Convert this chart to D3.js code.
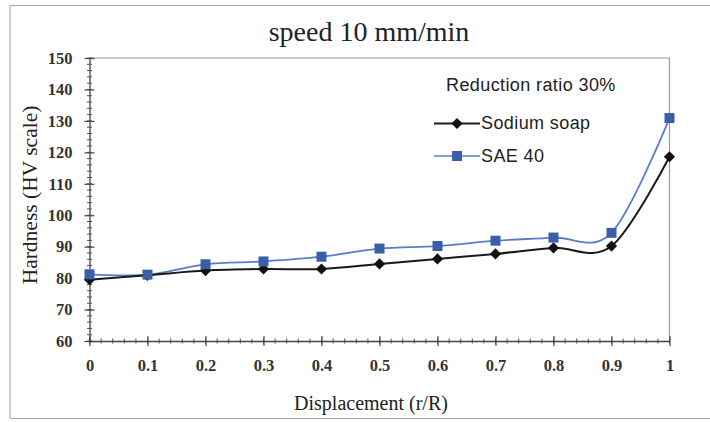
<!DOCTYPE html>
<html><head><meta charset="utf-8">
<script src="https://cdn.jsdelivr.net/npm/d3@7"></script>
<style>body{margin:0;background:#fff}svg{display:block}</style>
</head><body>
<script>
const displacement = [0, 0.1, 0.2, 0.3, 0.4, 0.5, 0.6, 0.7, 0.8, 0.9, 1];
const sodiumSoap = [79.5, 80.9, 82.4, 82.9, 82.9, 84.5, 86.1, 87.7, 89.6, 90.2, 118.6];
const sae40 = [81.2, 81.1, 84.4, 85.3, 86.8, 89.4, 90.2, 91.9, 92.9, 94.4, 130.9];
const xTicks = [0, 0.1, 0.2, 0.3, 0.4, 0.5, 0.6, 0.7, 0.8, 0.9, 1];
const yTicks = [60, 70, 80, 90, 100, 110, 120, 130, 140, 150];
const seriesNames = ["Sodium soap", "SAE 40"];

const W = 710, H = 422;
const svg = d3.select("body").append("svg").attr("width", W).attr("height", H);

// outer frame
svg.append("path").attr("d", "M10,418 L10,5.5 L710,5.5 M10,418.5 L710,418.5")
  .attr("fill", "none").attr("stroke", "#aaa").attr("stroke-width", 1.2);

const L = 89.5, R = 669.5, T = 58, B = 341;
const x = d3.scaleLinear().domain([0, 1]).range([L, R]);
const y = d3.scaleLinear().domain([60, 150]).range([B, T]);

// plot border top/right
svg.append("path").attr("d", `M${L},${T} L${R},${T} L${R},${B}`)
  .attr("fill", "none").attr("stroke", "#9a9a9a").attr("stroke-width", 1.2);

// minor ticks
const xMinor = d3.range(0, 1.0001, 0.02);
svg.append("g").selectAll("line").data(xMinor).join("line")
  .attr("x1", d => x(d)).attr("x2", d => x(d)).attr("y1", B - 2.5).attr("y2", B + 2.5)
  .attr("stroke", "#555").attr("stroke-width", 1);
const yMinor = d3.range(60, 150.001, 2);
svg.append("g").selectAll("line").data(yMinor).join("line")
  .attr("x1", L - 2.5).attr("x2", L + 2.5).attr("y1", d => y(d)).attr("y2", d => y(d))
  .attr("stroke", "#555").attr("stroke-width", 1);

// axes
const xAxis = svg.append("g").attr("transform", `translate(0,${B})`)
  .call(d3.axisBottom(x).tickValues(xTicks).tickFormat(d => d3.format("")(d)).tickSize(5).tickSizeOuter(0));
xAxis.selectAll(".tick line").attr("y1", -5).attr("y2", 5);
const yAxis = svg.append("g").attr("transform", `translate(${L},0)`)
  .call(d3.axisLeft(y).tickValues(yTicks).tickSize(5).tickSizeOuter(0));
yAxis.selectAll(".tick line").attr("x1", -5).attr("x2", 5);
[xAxis, yAxis].forEach(a => {
  a.select(".domain").attr("stroke", "#444").attr("stroke-width", 1.3);
  a.selectAll(".tick line").attr("stroke", "#444").attr("stroke-width", 1.2);
  a.selectAll("text").attr("font-family", "Liberation Serif, serif").attr("font-size", 16.5)
    .attr("font-weight", "bold").attr("fill", "#333");
});
xAxis.selectAll("text").attr("dy", "1.35em");
yAxis.selectAll("text").attr("dx", "-0.55em");

// lines
const curve = d3.curveCardinal.tension(0);
function draw(vals, stroke, width) {
  const line = d3.line().x((d, i) => x(displacement[i])).y(d => y(d)).curve(curve);
  svg.append("path").datum(vals).attr("d", line).attr("fill", "none")
    .attr("stroke", stroke).attr("stroke-width", width);
}
draw(sae40, "#5a7ec6", 1.8);
draw(sodiumSoap, "#1a1a1a", 2);

const diamond = d3.symbol().type(d3.symbolDiamond2).size(80);
svg.append("g").selectAll("path").data(sodiumSoap).join("path")
  .attr("transform", (d, i) => `translate(${x(displacement[i])},${y(d)})`)
  .attr("d", diamond).attr("fill", "#111");
svg.append("g").selectAll("rect").data(sae40).join("rect")
  .attr("x", (d, i) => x(displacement[i]) - 5).attr("y", d => y(d) - 5)
  .attr("width", 10).attr("height", 10).attr("fill", "#3b5ea8");

// title & labels
svg.append("text").attr("x", 369).attr("y", 41).attr("text-anchor", "middle")
  .attr("font-family", "Liberation Serif, serif").attr("font-size", 28).attr("fill", "#222")
  .text("speed 10 mm/min");
svg.append("text").attr("x", 371).attr("y", 410).attr("text-anchor", "middle")
  .attr("font-family", "Liberation Serif, serif").attr("font-size", 20).attr("fill", "#222")
  .text("Displacement (r/R)");
svg.append("text").attr("transform", "translate(37,195) rotate(-90)").attr("text-anchor", "middle")
  .attr("font-family", "Liberation Serif, serif").attr("font-size", 21.5).attr("fill", "#222")
  .text("Hardness (HV scale)");

// legend
const lg = svg.append("g").attr("font-family", "Liberation Sans, Arial, sans-serif")
  .attr("font-size", 18).attr("letter-spacing", "0.4px").attr("fill", "#222");
lg.append("text").attr("x", 446).attr("y", 91).text("Reduction ratio 30%");
const legItems = [
  {name: seriesNames[0], color: "#1a1a1a", y: 123.5, shape: "diamond"},
  {name: seriesNames[1], color: "#5a7ec6", y: 156, shape: "square"}
];
legItems.forEach(it => {
  lg.append("line").attr("x1", 434).attr("x2", 480).attr("y1", it.y).attr("y2", it.y)
    .attr("stroke", it.color).attr("stroke-width", it.shape === "diamond" ? 2 : 1.6);
  if (it.shape === "diamond") {
    lg.append("path").attr("transform", `translate(457,${it.y})`).attr("d", diamond).attr("fill", "#111");
  } else {
    lg.append("rect").attr("x", 452).attr("y", it.y - 5).attr("width", 10).attr("height", 10).attr("fill", "#3b5ea8");
  }
  lg.append("text").attr("x", 481).attr("y", it.y + 5.5).text(it.name);
});
</script>
</body></html>
